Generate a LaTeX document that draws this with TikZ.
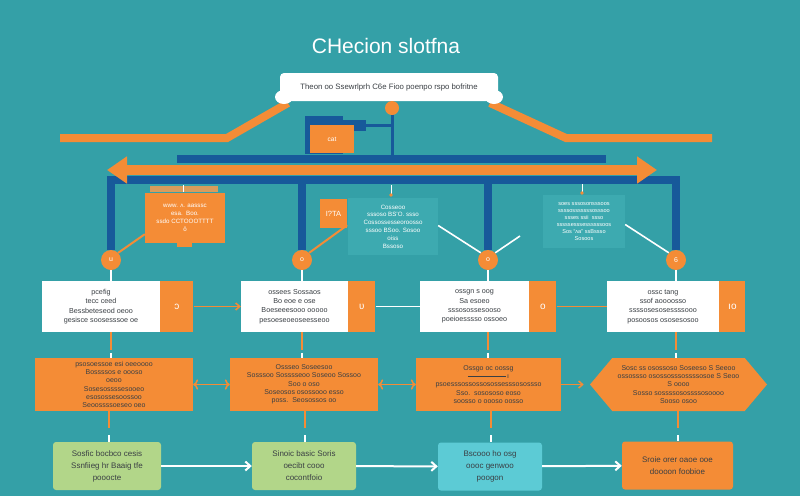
\documentclass[tikz,border=0pt]{standalone}
\usepackage{fontspec}
\setmainfont{Liberation Sans}
\usepackage{tikz}
\usetikzlibrary{arrows.meta,positioning,shapes.symbols,calc}
\definecolor{tealbg}{HTML}{34A0A7}
\definecolor{noteteal}{HTML}{3DAAB0}
\definecolor{navyblue}{HTML}{17599A}
\definecolor{flameorange}{HTML}{F48C36}
\definecolor{tanorange}{HTML}{D89C5C}
\definecolor{leafgreen}{HTML}{B2D689}
\definecolor{aquacyan}{HTML}{5CCBD5}
\definecolor{inkgray}{HTML}{3A3F44}
\tikzset{
  stepcard/.style={fill=white,minimum height=51pt,inner sep=1pt,align=center,
    font=\fontsize{7.2}{9.3}\selectfont,text=inkgray},
  stepflag/.style={fill=flameorange,minimum height=51pt,inner sep=0pt,
    text=white,font=\fontsize{10}{10}\selectfont},
  actbox/.style={fill=flameorange,minimum height=53pt,inner sep=1pt,align=center,
    font=\fontsize{7}{8.3}\selectfont,text=inkgray},
  outbox/.style={rounded corners=3pt,minimum height=48pt,inner sep=1pt,align=center,
    font=\fontsize{8}{12}\selectfont,text=inkgray},
  notebox/.style={inner sep=1pt,align=center,text=white,
    font=\fontsize{6.2}{7.8}\selectfont},
  hubdot/.style={circle,fill=flameorange,minimum size=20pt,inner sep=0pt,
    text=white,font=\fontsize{7}{7}\selectfont},
  busline/.style={draw=navyblue,line width=8pt},
  rail/.style={draw=flameorange,line width=8pt,line join=miter},
  linkline/.style={draw=flameorange,line width=2pt},
  wireline/.style={draw=white,line width=1.6pt},
  flowarrow/.style={-{Straight Barb[length=4pt,width=7pt]},line width=1.5pt,draw=flameorange},
  wirearrow/.style={-{Straight Barb[length=5pt,width=9pt]},line width=2pt,draw=white}
}
\begin{document}
\begin{tikzpicture}[x=1pt,y=-1pt]
\useasboundingbox[fill=tealbg] (0,0) rectangle (800,496);

% title and banner
\node[text=white,font=\fontsize{21}{21}\selectfont] (title) at (386,46) {CHecion slotfna};
\draw[rail] (60,138) -- (227,138) -- (288,103);
\draw[rail] (490,103) -- (566,138) -- (712,138);
\fill[white] (284,97) ellipse (9pt and 7pt);
\fill[white] (494,97) ellipse (9pt and 7pt);
\node[fill=white,rounded corners=4pt,minimum width=218pt,minimum height=28pt,
  font=\fontsize{7.8}{8}\selectfont,text=inkgray] (banner) at (389,87)
  {Theon oo Ssewrlprh C6e Fioo poenpo rspo bofritne};

% hub under the banner
\node[circle,fill=flameorange,minimum size=14pt,inner sep=0pt] (topdot) at (392,108) {};
\fill[navyblue] (305,116) rectangle (343,154);
\fill[navyblue] (343,120) rectangle (366,131);
\node[fill=flameorange,minimum width=44pt,minimum height=28pt,inner sep=0pt,
  text=white,font=\fontsize{6.5}{6.5}\selectfont] (cat) at (332,139) {cat};
\draw[navyblue,line width=3pt] (topdot.south) -- (392,156);
\draw[navyblue,line width=3pt] (366,125) -- (392,125);

% hubs
\node[hubdot] (hub1) at (111,260) {u};
\node[hubdot] (hub2) at (302,260) {o};
\node[hubdot] (hub3) at (488,260) {o};
\node[hubdot] (hub4) at (676,260) {6};
\coordinate (busy) at (0,180);

% bus bars and the big arrow
\fill[navyblue] (177,155) rectangle (606,163);
\draw[busline] (hub1.north) -- (hub1.north |- busy) -- (hub4.north |- busy) -- (hub4.north);
\draw[busline] (hub2.north) -- (hub2.north |- busy);
\draw[busline] (hub3.north) -- (hub3.north |- busy);
\draw[draw=flameorange,line width=10pt,
  {Triangle[length=20pt,width=26pt]}-{Triangle[length=20pt,width=26pt]}] (107,170) -- (657,170);

% notes
\fill[tanorange] (150,186) rectangle (218,192);
\draw[white,line width=0.8pt] (183,185) -- (183,192);
\node[notebox,fill=flameorange,minimum width=80pt,minimum height=50pt] (note1) at (185,218)
  {www. ʌ. aasssc\\ esa.\ \ Boo.\\ ssdo CCTOOOTTTT\\ ô};
\fill[flameorange] (177,243) rectangle (192,247);
\node[notebox,fill=flameorange,minimum width=27pt,minimum height=29pt,
  font=\fontsize{7.5}{7.5}\selectfont] (note2) at (333.5,213.5) {I?TA};
\node[notebox,fill=noteteal,minimum width=90pt,minimum height=57pt] (note3) at (393,226.5)
  {Cosseoo\\ sssoso BS'O. ssso\\ Cossossesseoroosso\\ sssoo BSoo. Sosoo\\ oiss\\ Bssoso};
\node[notebox,fill=noteteal,minimum width=82pt,minimum height=53pt,
  font=\fontsize{5.6}{7}\selectfont] (note4) at (584,221.5)
  {soes sssosonsssoos\\ ssssosssssssosssoo\\ ssses ssii\ \ ssso\\ sssssesssessssssoos\\ Sos ``ʌa'' ssBssso\\ Sosoos};
\coordinate (pin1) at (391,185);
\coordinate (pin2) at (582,184);
\draw[white,line width=1pt] (pin1) -- ++(0,10) node[circle,fill=flameorange,inner sep=1.3pt]{};
\draw[white,line width=1pt] (pin2) -- ++(0,9) node[circle,fill=flameorange,inner sep=1.3pt]{};
\draw[linkline] (hub1.north east) -- ([yshift=9pt]note1.south west);
\draw[linkline] (hub2.north east) -- ([yshift=3pt]note2.south east);
\draw[wireline] ([yshift=1pt]note3.east) -- (hub3.north west);
\coordinate (loose) at (520,236);
\draw[wireline] (hub3.north east) -- (loose);
\draw[wireline] ([yshift=-3pt]note4.east) -- (hub4.north west);

% row one
\node[stepcard,minimum width=118pt] (card1) at (101,306.5)
  {pcefig\\ tecc ceed\\ Bessbeteseod oeoo\\ gesisce soosesssoe oe};
\node[stepflag,minimum width=33pt,right=0pt of card1] (flag1) {ɔ};
\node[stepcard,minimum width=107pt] (card2) at (294.5,306.5)
  {ossees Sossaos\\ Bo eoe e ose\\ Boeseeesooo ooooo\\ pesoeseoeoseesseoo};
\node[stepflag,minimum width=27pt,right=0pt of card2] (flag2) {ʋ};
\node[stepcard,minimum width=109pt] (card3) at (474.5,306.5)
  {ossgn s oog\\ Sa esoeo\\ sssosossesooso\\ poeioesssso ossoeo};
\node[stepflag,minimum width=27pt,right=0pt of card3] (flag3) {o};
\node[stepcard,minimum width=112pt] (card4) at (663,306.5)
  {ossc tang\\ ssof aoooosso\\ ssssosesosessssooo\\ posoosos ososesosoo};
\node[stepflag,minimum width=26pt,right=0pt of card4] (flag4) {ıo};
\draw[flowarrow] (flag1) -- (card2);
\draw[wireline] (flag2) -- (card3);
\draw[wireline,draw=flameorange] (flag3) -- (card4);
\foreach \h in {1,...,4}
  \draw[wireline] (hub\h.south) -- (hub\h.south |- card\h.north);

% row two
\node[actbox,minimum width=158pt] (act1) at (114,384.5)
  {psosoessoe esi oeeoooo\\ Bossssos e oooso\\ oeoo\\ Sosesossssesooeo\\ esosossesoossoo\\ Seoossssoeseo oeo};
\node[actbox,minimum width=148pt] (act2) at (304,384.5)
  {Ossseo Soseesoo\\ Sosssoo Sosssseoo Soseoo Sossoo\\ Soo o oso\\ Soseosos osossooo esso\\ poss.\ \ Seosossos oo};
\node[actbox,minimum width=145pt] (act3) at (488.5,384.5)
  {Ossgo oc oossg\\ \rule[2pt]{38pt}{0.4pt}\,ı\\ psoesssossossosossesssosossso\\ Sso.\ \ sosososo eoso\\ soosso o oooso oosso};
\node[actbox,shape=signal,signal to=west and east,signal pointer angle=100,
  minimum width=177pt] (act4) at (678.5,384.5)
  {Sosc ss osossoso Soseeso S Seeoo\\ ossossso osossosssossssosoe S Seoo\\ S oooo\\ Sosso sossssosossssosoooo\\ Sooso osoo};
\draw[flowarrow,<->] (act1) -- (act2);
\draw[flowarrow,<->] (act2) -- (act3);
\draw[flowarrow] (act3.east) -- ([xshift=-6pt]act4.west);
\foreach \h in {1,...,4} {
  \draw[linkline] (hub\h |- card\h.south) -- ($(hub\h |- act\h.north)+(0,-8)$);
  \draw[wireline] ($(hub\h |- act\h.north)+(0,-5)$) -- (hub\h |- act\h.north);
}

% row three
\node[outbox,fill=leafgreen,minimum width=108pt] (out1) at (107,466)
  {Sosfic bocbco cesis\\ Ssnfiieg hr Baaig tfe\\ pooocte};
\node[outbox,fill=leafgreen,minimum width=104pt] (out2) at (304,466)
  {Sinoic basic Soris\\ oecibt cooo\\ cocontfoio};
\node[outbox,fill=aquacyan,minimum width=104pt] (out3) at (490,466.5)
  {Bscooo ho osg\\ oooc genwoo\\ poogon};
\node[outbox,fill=flameorange,minimum width=111pt] (out4) at (677.5,465.5)
  {Sroie orer oaoe ooe\\ doooon foobioe};
\draw[wirearrow] (out1) -- (out2);
\draw[wirearrow] (out2) -- (out3);
\draw[wirearrow] (out3) -- (out4);
\foreach \h/\xx in {1/109,2/305,3/491,4/678} {
  \coordinate (drop\h) at (\xx,411);
  \draw[linkline] (drop\h) -- ++(0,17);
  \draw[wireline] ([yshift=-24pt]drop\h) -- (drop\h |- out\h.north);
}
\end{tikzpicture}
\end{document}
